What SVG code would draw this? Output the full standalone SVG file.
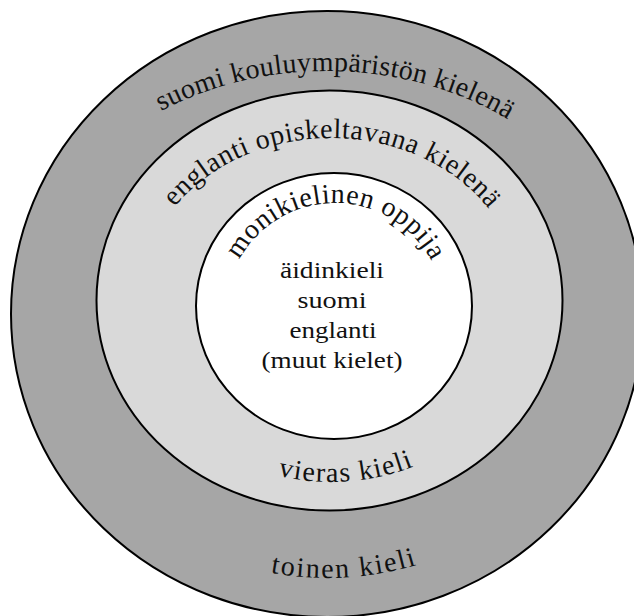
<svg xmlns="http://www.w3.org/2000/svg" xmlns:xlink="http://www.w3.org/1999/xlink" width="634" height="616" viewBox="0 0 634 616">
  <style>
    .ring { stroke: #000; stroke-width: 2; }
    .lbl { font-family: "Liberation Serif", "Times New Roman", serif; fill: #111; }
    .arc { font-size: 28px; }
    .ctr { font-size: 24px; text-anchor: middle; }
  </style>
  <defs>
    <path id="p-outer-top" d="M 27 311 A 300 240 0 0 1 627 311" fill="none"/>
    <path id="p-mid-top" d="M 140 300 A 191 162 0 0 1 522 300" fill="none"/>
    <path id="p-inner-top" d="M 226 312 A 109 109 0 0 1 444 312" fill="none"/>
    <path id="p-mid-bot" d="M 126 300 A 205 182 0 0 0 536 300" fill="none"/>
    <path id="p-outer-bot" d="M 37 314 A 290 264 0 0 0 617 314" fill="none"/>
  </defs>
  <rect x="0" y="0" width="634" height="616" fill="#fff"/>

  <g id="outer-ring">
    <ellipse class="ring" cx="327" cy="314" rx="316" ry="303" fill="#a6a6a6"/>
    <text class="lbl arc" letter-spacing="0.3"><textPath xlink:href="#p-outer-top" href="#p-outer-top" startOffset="434" text-anchor="middle">suomi kouluympäristön kielenä</textPath></text>
    <text class="lbl arc" letter-spacing="1.9"><textPath xlink:href="#p-outer-bot" href="#p-outer-bot" startOffset="453" text-anchor="middle">toinen kieli</textPath></text>
  </g>

  <g id="middle-ring">
    <ellipse class="ring" cx="329.5" cy="300.5" rx="233" ry="210" fill="#d9d9d9"/>
    <text class="lbl arc" letter-spacing="0.55"><textPath xlink:href="#p-mid-top" href="#p-mid-top" startOffset="279" text-anchor="middle">englanti opiskeltavana kielenä</textPath></text>
    <text class="lbl arc" letter-spacing="1.3"><textPath xlink:href="#p-mid-bot" href="#p-mid-bot" startOffset="320" text-anchor="middle">vieras kieli</textPath></text>
  </g>

  <g id="inner-circle">
    <ellipse class="ring" cx="334" cy="306" rx="138" ry="133" fill="#ffffff"/>
    <text class="lbl arc" letter-spacing="0.55"><textPath xlink:href="#p-inner-top" href="#p-inner-top" startOffset="172" text-anchor="middle">monikielinen oppija</textPath></text>
    <text class="lbl ctr" x="332" y="278" textLength="104" lengthAdjust="spacingAndGlyphs">äidinkieli</text>
    <text class="lbl ctr" x="332" y="308" textLength="69" lengthAdjust="spacingAndGlyphs">suomi</text>
    <text class="lbl ctr" x="333" y="338" textLength="87" lengthAdjust="spacingAndGlyphs">englanti</text>
    <text class="lbl ctr" x="332" y="368" textLength="141" lengthAdjust="spacingAndGlyphs">(muut kielet)</text>
  </g>
</svg>
